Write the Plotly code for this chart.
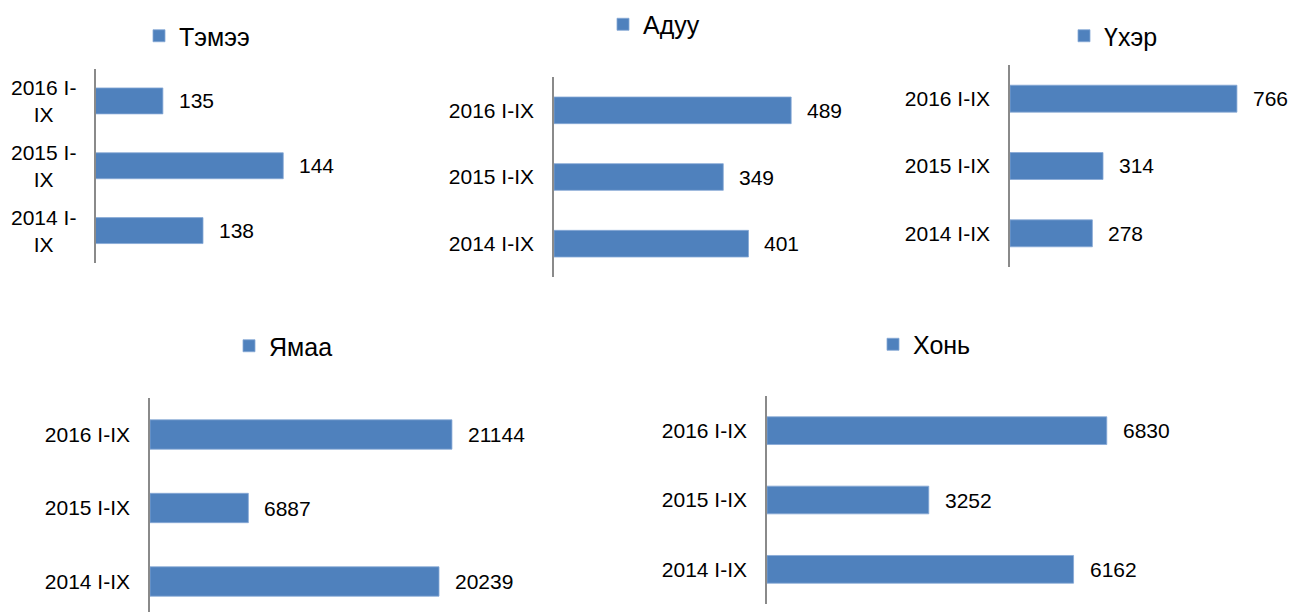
import plotly.graph_objects as go

W, H = 1293, 612

categories = ["2014 I-IX", "2015 I-IX", "2016 I-IX"]
series_names = ["Тэмээ", "Адуу", "Үхэр", "Ямаа", "Хонь"]
temee = [138, 144, 135]
aduu = [401, 349, 489]
ukher = [278, 314, 766]
yamaa = [20239, 6887, 21144]
khoni = [6162, 3252, 6830]
values = [temee, aduu, ukher, yamaa, khoni]

BLUE = "#4F81BD"
FONT = "Liberation Sans, Arial, sans-serif"

# panel layout in pixels: (x_left, x_right, y_top, y_bottom), x range, y range
panels = [
    dict(px=(96, 310), py=(68.5, 263), xr=[130, 146], yr=[-0.5, 2.5], leg=(139, 36)),
    dict(px=(554, 845), py=(77, 277), xr=[0, 600], yr=[-0.5, 2.5], leg=(603, 24.5)),
    dict(px=(1010, 1247), py=(65, 267), xr=[0, 800], yr=[-0.5, 2.5], leg=(1064, 36)),
    dict(px=(150, 507), py=(397.75, 612), xr=[0, 25000], yr=[-0.415, 2.5], leg=(229, 346)),
    dict(px=(767, 1165), py=(396, 604), xr=[0, 8000], yr=[-0.5, 2.5], leg=(873, 344.5)),
]

fig = go.Figure()
annotations = []
layout = {}
for i, (name, vals, p) in enumerate(zip(series_names, values, panels)):
    k = "" if i == 0 else str(i + 1)
    legname = "legend" + k
    fig.add_trace(go.Bar(
        x=vals, y=categories, orientation="h", name=name,
        marker=dict(color=BLUE, line=dict(width=0.8, color="#86a8d6")),
        xaxis="x" + k, yaxis="y" + k, legend=legname, showlegend=True,
    ))
    layout["xaxis" + k] = dict(
        domain=[p["px"][0] / W, p["px"][1] / W], range=p["xr"], anchor="y" + k,
        visible=False, fixedrange=True,
    )
    layout["yaxis" + k] = dict(
        domain=[1 - p["py"][1] / H, 1 - p["py"][0] / H], range=p["yr"], anchor="x" + k,
        type="category", categoryorder="array", categoryarray=categories,
        showline=True, linecolor="#8a8a8a", linewidth=1.5, showgrid=False, zeroline=False,
        ticks="outside", ticklen=14, tickcolor="rgba(0,0,0,0)", fixedrange=True,
        showticklabels=(i != 0), tickfont=dict(family=FONT, size=21, color="#000"),
    )
    layout[legname] = dict(
        x=p["leg"][0] / W, y=1 - p["leg"][1] / H, xanchor="left", yanchor="middle",
        font=dict(family=FONT, size=25, color="#000"), bgcolor="rgba(0,0,0,0)",
    )
    for c, v in zip(categories, vals):
        annotations.append(dict(
            x=v, y=c, xref="x" + k, yref="y" + k, text=str(v), showarrow=False,
            xanchor="left", yanchor="middle", xshift=14,
            font=dict(family=FONT, size=21, color="#000"),
        ))
    if i == 0:
        for c in categories:
            annotations.append(dict(
                x=78 / W, y=c, xref="paper", yref="y", text=c.replace(" I-IX", " I-<br>IX"),
                showarrow=False, xanchor="right", yanchor="middle", align="center",
                font=dict(family=FONT, size=21, color="#000"),
            ))

fig.update_layout(
    width=W, height=H, margin=dict(l=0, r=0, t=0, b=0),
    paper_bgcolor="white", plot_bgcolor="white",
    bargap=0.6, annotations=annotations, **layout,
)
fig.write_html(
    "out.html",
    config={"displayModeBar": False},
    post_script="document.body.style.margin='0';document.body.style.overflow='hidden';",
)
